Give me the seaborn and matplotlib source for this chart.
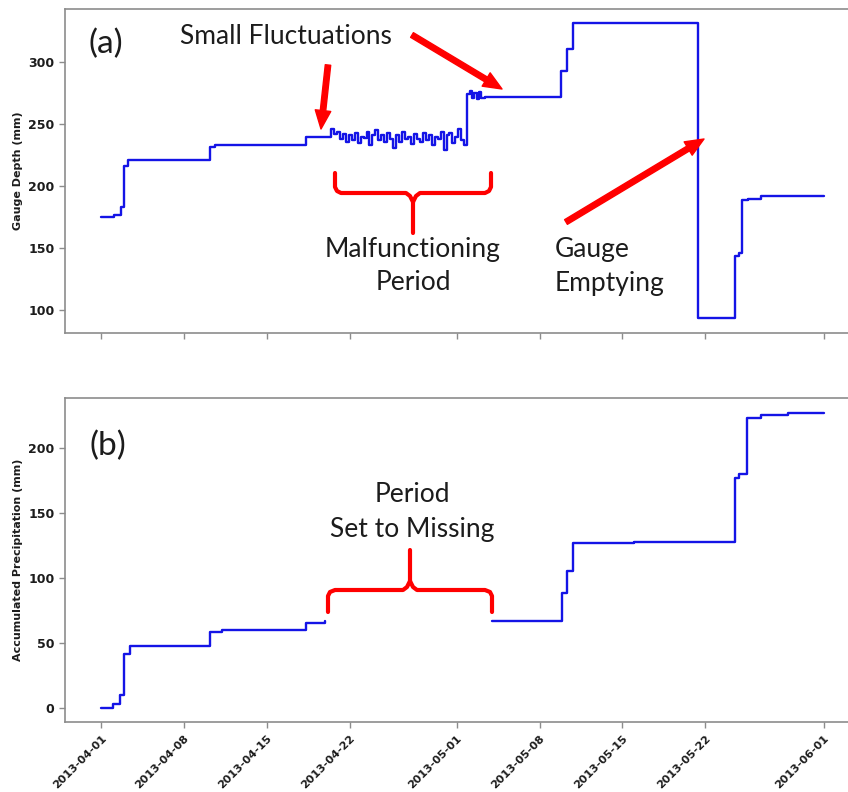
import matplotlib
matplotlib.use("Agg")
import matplotlib.dates as mdates
import matplotlib.pyplot as plt
import pandas as pd
import seaborn as sns

START = "2013-04-01"

# (a) gauge depth, change points (days after start, mm)
fluct_days = [19.4, 19.65, 19.9, 20.15, 20.4, 20.65, 20.9, 21.15, 21.4, 21.65,
              21.9, 22.15, 22.4, 22.65, 22.9, 23.15, 23.4, 23.65, 23.9, 24.15,
              24.4, 24.65, 24.9, 25.15, 25.4, 25.65, 25.9, 26.15, 26.4, 26.65,
              26.9, 27.15, 27.4, 27.65, 27.9, 28.15, 28.4, 28.65, 28.9, 29.15,
              29.4, 29.65, 29.9, 30.15, 30.4, 30.65]
fluct_mm = [246, 242, 244, 238, 242, 236, 241, 237, 243, 235,
            240, 239, 244, 233, 241, 245, 237, 241, 236, 243,
            238, 231, 241, 236, 244, 238, 240, 234, 242, 238,
            236, 243, 237, 241, 233, 240, 238, 244, 229, 241,
            243, 235, 240, 246, 237, 233]
depth_days = ([0, 1.1, 1.7, 1.9, 2.25, 9.2, 9.6, 17.25] + fluct_days +
              [30.9, 31.1, 31.3, 31.5, 31.7, 31.9, 32.1, 32.4,
               38.85, 39.3, 39.8, 50.4, 53.5, 53.8, 54.1, 54.6, 55.7, 61])
depth_mm = ([175, 177, 183, 216, 221, 232, 233, 240] + fluct_mm +
            [274, 277, 271, 275, 270, 276, 271, 272,
             293, 311, 332, 94, 144, 146, 189, 190, 192, 192])

# (b) accumulated precipitation, two pieces around the missing period
precip1_days = [0, 1.0, 1.6, 1.9, 2.45, 9.15, 10.2, 17.25, 18.9]
precip1_mm = [0, 3, 10, 42, 48, 59, 60, 66, 67]
precip2_days = [33.0, 38.9, 39.3, 39.8, 45.0, 53.5, 53.8, 54.5, 55.7, 58.0, 61]
precip2_mm = [67, 89, 106, 127, 128, 177, 180, 223, 226, 227, 227]

LINE = "#1414e6"
RED = "#ff0000"
TEXT = "#1c1c1c"
SPINE = "#8c8c8c"


def to_frame(days, values, segment):
    return pd.DataFrame({
        "time": pd.Timestamp(START) + pd.to_timedelta(days, unit="D"),
        "value": values,
        "segment": segment,
    })


depth = to_frame(depth_days, depth_mm, 0)
precip = pd.concat([to_frame(precip1_days, precip1_mm, 0),
                    to_frame(precip2_days, precip2_mm, 1)], ignore_index=True)

sns.set_style("ticks")
plt.rcParams["font.family"] = ["DejaVu Sans"]

W, H = 848, 792
fig = plt.figure(figsize=(W / 100, H / 100), dpi=100)


def px_axes(left, top, right, bottom):
    return fig.add_axes([left / W, 1 - bottom / H, (right - left) / W, (bottom - top) / H])


ax_a = px_axes(65, 9, 860, 333)
ax_b = px_axes(65, 398, 860, 722)

for ax, frame, ylab, ylim, yticks in [
    (ax_a, depth, "Gauge Depth (mm)", (81.5, 343), [100, 150, 200, 250, 300]),
    (ax_b, precip, "Accumulated Precipitation (mm)", (-10.5, 238.7), [0, 50, 100, 150, 200]),
]:
    sns.lineplot(data=frame, x="time", y="value", units="segment", estimator=None,
                 drawstyle="steps-post", color=LINE, lw=1.7, legend=False, ax=ax)
    ax.set_xlim(pd.Timestamp(START) - pd.Timedelta(days=3.05),
                pd.Timestamp(START) + pd.Timedelta(days=64.05))
    ax.set_ylim(*ylim)
    ax.set_yticks(yticks)
    ax.set_xlabel("")
    ax.set_ylabel(ylab, fontsize=8, fontweight="bold", color=TEXT)
    ax.xaxis.set_major_locator(mdates.DayLocator(bymonthday=[1, 8, 15, 22]))
    ax.xaxis.set_major_formatter(mdates.DateFormatter("%Y-%m-%d"))
    ax.tick_params(length=4, width=1, color=SPINE, labelcolor=TEXT)
    ax.tick_params(axis="y", labelsize=9)
    ax.tick_params(axis="x", labelsize=8, pad=4)
    for lab in ax.get_yticklabels():
        lab.set_fontweight("bold")
    for side in ("left", "bottom", "top"):
        ax.spines[side].set_color(SPINE)
        ax.spines[side].set_linewidth(1.2)
        ax.spines[side].set_visible(True)
    ax.spines["right"].set_visible(False)

ax_a.tick_params(axis="x", labelbottom=False)
for lab in ax_b.get_xticklabels():
    lab.set_rotation(45)
    lab.set_ha("right")
    lab.set_rotation_mode("anchor")
    lab.set_fontweight("bold")

# overlay in image pixels for the hand-drawn annotations
ov = fig.add_axes([0, 0, 1, 1])
ov.set_xlim(0, W)
ov.set_ylim(H, 0)
ov.axis("off")
ov.patch.set_alpha(0)

font = dict(family=["Lato", "DejaVu Sans"], color=TEXT)
ov.text(106, 44, "(a)", fontsize=24, ha="center", va="center", **font)
ov.text(108, 446, "(b)", fontsize=24, ha="center", va="center", **font)
ov.text(286, 37, "Small Fluctuations", fontsize=19, ha="center", va="center", **font)
ov.text(413, 249, "Malfunctioning", fontsize=19, ha="center", va="center", **font)
ov.text(413, 283, "Period", fontsize=19, ha="center", va="center", **font)
ov.text(555, 249, "Gauge", fontsize=19, ha="left", va="center", **font)
ov.text(555, 284, "Emptying", fontsize=19, ha="left", va="center", **font)
ov.text(412, 495, "Period", fontsize=19, ha="center", va="center", **font)
ov.text(412, 530, "Set to Missing", fontsize=19, ha="center", va="center", **font)

arrow = dict(arrowstyle="simple,head_length=0.95,head_width=0.8,tail_width=0.28",
             mutation_scale=14, color=RED, shrinkA=0, shrinkB=0)
for tail, tip in [((328, 65), (321, 129)),
                  ((412, 35), (502, 89)),
                  ((566, 222), (704, 139))]:
    ov.annotate("", xy=tip, xytext=tail, xycoords="data", arrowprops=arrow)

bracket = dict(color=RED, lw=3, solid_capstyle="round", solid_joinstyle="round")
# (a) bracket, opening upward
ov.plot([335, 335, 337, 341, 406, 410, 413, 413], [173, 187, 191, 193, 193, 196, 202, 233], **bracket)
ov.plot([491, 491, 489, 485, 420, 416, 413], [173, 187, 191, 193, 193, 196, 202], **bracket)
# (b) bracket, opening downward
ov.plot([328, 328, 330, 335, 403, 407, 410, 410], [612, 596, 592, 590, 590, 587, 581, 550], **bracket)
ov.plot([492, 492, 490, 485, 417, 413, 410], [612, 596, 592, 590, 590, 587, 581], **bracket)

fig.savefig("out.png", dpi=100)
